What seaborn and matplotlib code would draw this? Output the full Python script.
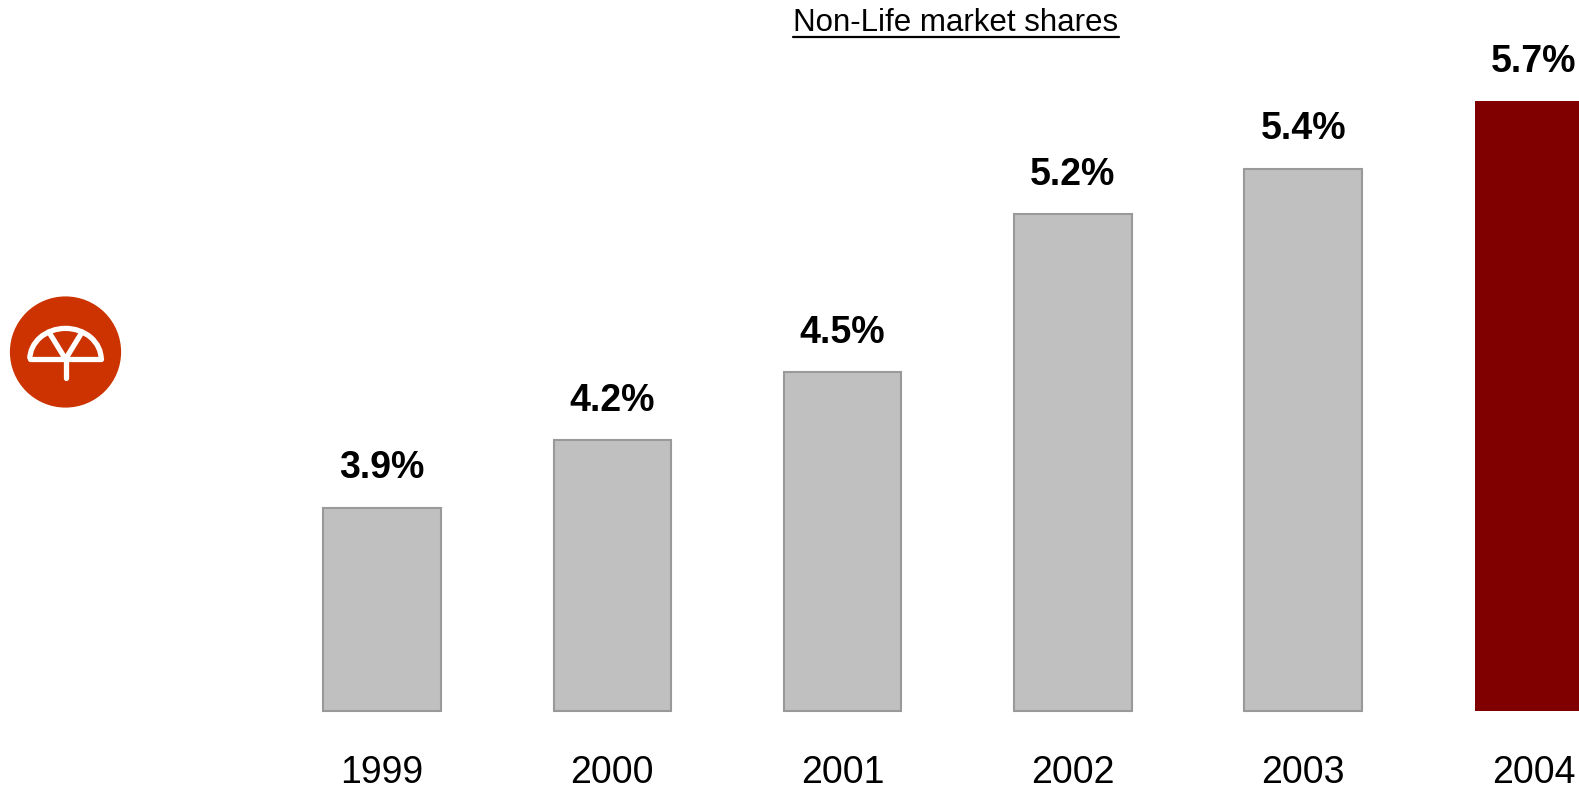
import matplotlib
matplotlib.use("Agg")
import matplotlib.pyplot as plt
import seaborn as sns
import pandas as pd
from matplotlib.patches import Circle, Arc
from matplotlib.lines import Line2D

years = ["1999", "2000", "2001", "2002", "2003", "2004"]
shares = [3.9, 4.2, 4.5, 5.2, 5.4, 5.7]
labels = ["3.9%", "4.2%", "4.5%", "5.2%", "5.4%", "5.7%"]
title = "Non-Life market shares"
axis_floor = 3.0

sns.set_theme(style="white")
plt.rcParams["font.family"] = ["Liberation Sans", "DejaVu Sans"]

W, H = 1579, 789
fig = plt.figure(figsize=(W / 100, H / 100), dpi=100)
base_px = 711
ax = fig.add_axes([0, (H - base_px) / H, 1, base_px / H])

df = pd.DataFrame({"year": years, "share": shares})
colors = ["#C0C0C0"] * 5 + ["#800000"]
sns.barplot(data=df, x="year", y="share", hue="year", palette=colors,
            legend=False, width=0.51, ax=ax, saturation=1)
for i, p in enumerate(ax.patches):
    top = p.get_y() + p.get_height()
    p.set_y(axis_floor)
    p.set_height(top - axis_floor)
    p.set_clip_on(False)
    if i < 5:
        p.set_edgecolor("#999999")
        p.set_linewidth(1.5)
    else:
        p.set_edgecolor("#800000")
        p.set_linewidth(0)

spacing = 230.3
c0 = 382
ax.set_xlim(-c0 / spacing, (W - c0) / spacing)
px_per_unit = 226
ax.set_ylim(axis_floor, axis_floor + base_px / px_per_unit)
ax.axis("off")

for i, (v, lab) in enumerate(zip(shares, labels)):
    ax.annotate(lab, (i, v), xytext=(0, 21), textcoords="offset points",
                ha="center", va="baseline", fontsize=27, fontweight="bold",
                color="black")
    ax.annotate(years[i], (i, axis_floor), xytext=(0, -52), textcoords="offset points",
                ha="center", va="baseline", fontsize=27, color="black",
                annotation_clip=False)

t = fig.text(956 / W, 1 - 31 / H, title, ha="center", va="baseline",
             fontsize=22.5, color="black")
fig.canvas.draw()
bb = t.get_window_extent()
fig.add_artist(Line2D([bb.x0 / W, bb.x1 / W], [1 - 36.5 / H, 1 - 36.5 / H],
                      transform=fig.transFigure, color="black", lw=1.6))

# logo
cx, cy, r = 65.5, 352, 56
logo_ax = fig.add_axes([(cx - r) / W, 1 - (cy + r) / H, 2 * r / W, 2 * r / H])
logo_ax.set_xlim(-1.02, 1.02)
logo_ax.set_ylim(-1.02, 1.02)
logo_ax.set_aspect("equal")
logo_ax.axis("off")
logo_ax.add_patch(Circle((0, 0), 1, color="#CC3300", clip_on=False))
lw = 3.8
logo_ax.add_patch(Arc((0, -0.13), 1.3, 1.12, theta1=0, theta2=180, color="white", lw=lw))
logo_ax.plot([-0.65, 0.65], [-0.13, -0.13], color="white", lw=lw, solid_capstyle="round")
logo_ax.plot([-0.3, 0, 0.3], [0.36, -0.13, 0.36], color="white", lw=lw)
logo_ax.plot([0, 0], [-0.13, -0.47], color="white", lw=lw)

fig.savefig("out.png", dpi=100)
